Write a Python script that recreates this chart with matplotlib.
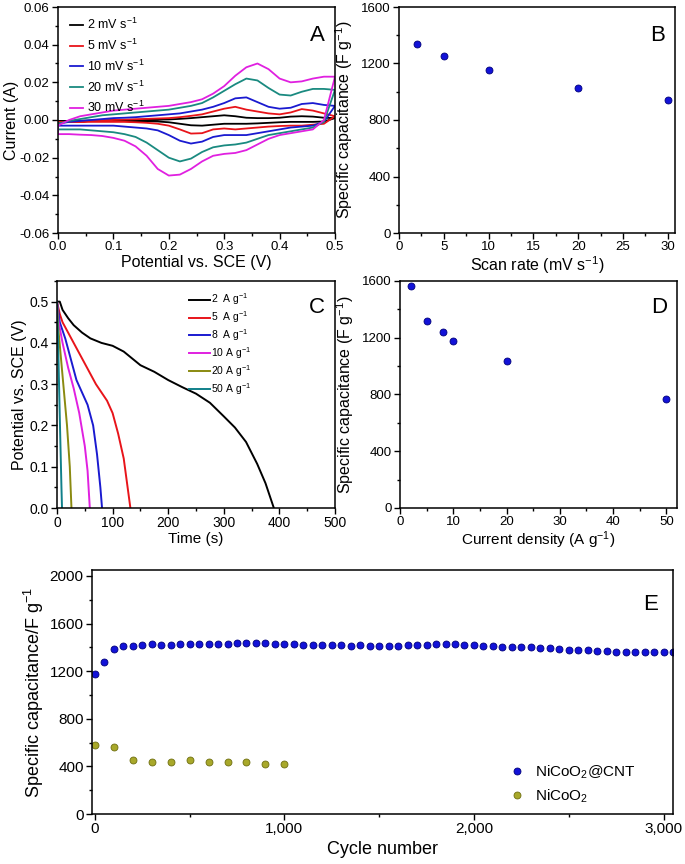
import matplotlib
matplotlib.use("Agg")
import matplotlib.pyplot as plt
from matplotlib.ticker import MultipleLocator

plt.rcParams['font.family'] = ['Liberation Sans', 'DejaVu Sans']
plt.rcParams['mathtext.fontset'] = 'custom'
plt.rcParams['mathtext.rm'] = 'Liberation Sans'
plt.rcParams['mathtext.it'] = 'Liberation Sans'

# ---------------- Panel A data: CV curves ----------------
cv_potential = [0.00, 0.02, 0.04, 0.06, 0.08, 0.10, 0.12, 0.14, 0.16, 0.18, 0.20, 0.22, 0.24,
                0.26, 0.28, 0.30, 0.32, 0.34, 0.36, 0.38, 0.40, 0.42, 0.44, 0.46, 0.48, 0.50]
cv_labels = ['2 mV s$^{-1}$', '5 mV s$^{-1}$', '10 mV s$^{-1}$', '20 mV s$^{-1}$', '30 mV s$^{-1}$']
cv_upper_2 = [-0.0005, -0.0005, -0.0004, -0.0003, -0.0002, -0.0001, 0.0, 0.0001, 0.0002, 0.0002,
              0.0003, 0.0006, 0.0010, 0.0015, 0.0020, 0.0025, 0.0020, 0.0012, 0.0010, 0.0010,
              0.0012, 0.0018, 0.0020, 0.0018, 0.0012, 0.0010]
cv_lower_2 = [-0.0005, -0.0005, -0.0005, -0.0005, -0.0005, -0.0005, -0.0006, -0.0006, -0.0007, -0.0008,
              -0.0012, -0.0020, -0.0028, -0.0030, -0.0025, -0.0020, -0.0020, -0.0020, -0.0018, -0.0015,
              -0.0012, -0.0010, -0.0010, -0.0010, -0.0008, 0.0010]
cv_upper_5 = [-0.0010, -0.0010, -0.0008, -0.0005, -0.0003, 0.0, 0.0002, 0.0004, 0.0006, 0.0008,
              0.0010, 0.0015, 0.0022, 0.0030, 0.0045, 0.0060, 0.0070, 0.0055, 0.0045, 0.0035,
              0.0030, 0.0040, 0.0058, 0.0050, 0.0035, 0.0020]
cv_lower_5 = [-0.0010, -0.0010, -0.0010, -0.0010, -0.0010, -0.0010, -0.0010, -0.0012, -0.0015, -0.0020,
              -0.0030, -0.0050, -0.0072, -0.0070, -0.0050, -0.0045, -0.0050, -0.0045, -0.0040, -0.0035,
              -0.0032, -0.0030, -0.0030, -0.0025, -0.0020, 0.0020]
cv_upper_10 = [-0.0020, -0.0010, -0.0005, 0.0, 0.0005, 0.0010, 0.0012, 0.0015, 0.0020, 0.0025,
               0.0030, 0.0035, 0.0045, 0.0055, 0.0070, 0.0090, 0.0115, 0.0120, 0.0095, 0.0070,
               0.0060, 0.0065, 0.0085, 0.0090, 0.0080, 0.0075]
cv_lower_10 = [-0.0030, -0.0030, -0.0030, -0.0030, -0.0030, -0.0030, -0.0035, -0.0040, -0.0045, -0.0055,
               -0.0080, -0.0110, -0.0125, -0.0115, -0.0090, -0.0080, -0.0080, -0.0080, -0.0070, -0.0060,
               -0.0050, -0.0040, -0.0035, -0.0030, -0.0010, 0.0075]
cv_upper_20 = [-0.0020, -0.0005, 0.0005, 0.0015, 0.0025, 0.0030, 0.0035, 0.0040, 0.0045, 0.0050,
               0.0055, 0.0065, 0.0075, 0.0090, 0.0120, 0.0155, 0.0190, 0.0220, 0.0210, 0.0170,
               0.0135, 0.0130, 0.0150, 0.0165, 0.0165, 0.0160]
cv_lower_20 = [-0.0050, -0.0050, -0.0050, -0.0055, -0.0060, -0.0065, -0.0075, -0.0090, -0.0120, -0.0160,
               -0.0200, -0.0220, -0.0205, -0.0170, -0.0145, -0.0135, -0.0130, -0.0120, -0.0100, -0.0080,
               -0.0070, -0.0060, -0.0050, -0.0040, -0.0010, 0.0160]
cv_upper_30 = [-0.0030, 0.0, 0.0020, 0.0030, 0.0040, 0.0050, 0.0055, 0.0060, 0.0065, 0.0070,
               0.0075, 0.0085, 0.0095, 0.0110, 0.0140, 0.0180, 0.0235, 0.0280, 0.0300, 0.0270,
               0.0220, 0.0200, 0.0205, 0.0220, 0.0230, 0.0230]
cv_lower_30 = [-0.0075, -0.0075, -0.0078, -0.0080, -0.0085, -0.0095, -0.0110, -0.0140, -0.0190, -0.0260,
               -0.0295, -0.0290, -0.0260, -0.0220, -0.0190, -0.0180, -0.0175, -0.0160, -0.0130, -0.0100,
               -0.0080, -0.0070, -0.0060, -0.0050, 0.0000, 0.0230]
cv_colors = ['#000000', '#e8141a', '#1a1ad0', '#1a8a80', '#e020e0']

# ---------------- Panel B data ----------------
scan_rate = [2, 5, 10, 20, 30]
cap_scan = [1340, 1250, 1153, 1030, 942]

# ---------------- Panel C data: discharge curves ----------------
gcd_labels = ['2  A g$^{-1}$', '5  A g$^{-1}$', '8  A g$^{-1}$', '10 A g$^{-1}$', '20 A g$^{-1}$', '50 A g$^{-1}$']
t_2 = [0, 5, 10, 20, 30, 45, 60, 80, 100, 120, 150, 175, 200, 225, 250, 275, 300, 320, 340, 360, 375, 385, 390]
v_2 = [0.50, 0.50, 0.48, 0.46, 0.443, 0.425, 0.411, 0.400, 0.393, 0.379, 0.346, 0.330, 0.310, 0.293,
       0.277, 0.255, 0.222, 0.195, 0.160, 0.107, 0.060, 0.020, 0.0]
t_5 = [0, 5, 10, 20, 30, 50, 70, 90, 100, 110, 120, 130, 132]
v_5 = [0.50, 0.47, 0.45, 0.425, 0.40, 0.35, 0.30, 0.26, 0.23, 0.18, 0.12, 0.02, 0.0]
t_8 = [0, 5, 15, 25, 35, 45, 55, 65, 72, 78, 81]
v_8 = [0.50, 0.45, 0.41, 0.36, 0.31, 0.28, 0.25, 0.20, 0.13, 0.05, 0.0]
t_10 = [0, 3, 10, 20, 30, 40, 50, 55, 59]
v_10 = [0.50, 0.45, 0.40, 0.34, 0.29, 0.23, 0.15, 0.09, 0.0]
t_20 = [0, 2, 10, 18, 23, 26]
v_20 = [0.50, 0.44, 0.32, 0.20, 0.10, 0.0]
t_50 = [0, 2, 5, 8, 9]
v_50 = [0.50, 0.40, 0.22, 0.05, 0.0]
gcd_colors = ['#000000', '#e8141a', '#1a1ad0', '#e020e0', '#8a8a10', '#10808a']

# ---------------- Panel D data ----------------
current_density = [2, 5, 8, 10, 20, 50]
cap_density = [1562, 1320, 1240, 1174, 1036, 770]

# ---------------- Panel E data ----------------
cycles_cnt = [0, 50, 100, 150, 200, 250, 300, 350, 400, 450, 500, 550, 600, 650, 700, 750, 800, 850,
              900, 950, 1000, 1050, 1100, 1150, 1200, 1250, 1300, 1350, 1400, 1450, 1500, 1550, 1600,
              1650, 1700, 1750, 1800, 1850, 1900, 1950, 2000, 2050, 2100, 2150, 2200, 2250, 2300, 2350,
              2400, 2450, 2500, 2550, 2600, 2650, 2700, 2750, 2800, 2850, 2900, 2950, 3000, 3050]
cap_cnt = [1175, 1280, 1385, 1415, 1412, 1422, 1425, 1422, 1422, 1425, 1428, 1430, 1430, 1428, 1430,
           1433, 1435, 1435, 1433, 1432, 1428, 1426, 1424, 1420, 1418, 1418, 1418, 1415, 1416, 1414,
           1413, 1414, 1412, 1418, 1420, 1424, 1426, 1430, 1428, 1420, 1416, 1412, 1408, 1404, 1400,
           1404, 1402, 1396, 1392, 1386, 1382, 1378, 1376, 1372, 1368, 1364, 1362, 1364, 1364, 1362,
           1360, 1358]
cycles_bare = [0, 100, 200, 300, 400, 500, 600, 700, 800, 900, 1000]
cap_bare = [580, 565, 454, 435, 435, 454, 435, 435, 435, 418, 418]

W, H = 685, 864
fig = plt.figure(figsize=(W / 100, H / 100), dpi=100)


def box(l, t, r, b):
    return [l / W, 1 - b / H, (r - l) / W, (b - t) / H]


def style(ax, tick_size=10):
    for s in ax.spines.values():
        s.set_linewidth(1.1)
    ax.tick_params(which='both', direction='out', top=False, right=False,
                   labelsize=tick_size, width=1.0, pad=2)
    ax.tick_params(which='major', length=4)
    ax.tick_params(which='minor', length=2)


ms = 5
blue_face = '#1212d8'
blue_edge = '#00007a'

# Panel A
axA = fig.add_axes(box(58, 7, 335, 233))
cv_up = [cv_upper_2, cv_upper_5, cv_upper_10, cv_upper_20, cv_upper_30]
cv_lo = [cv_lower_2, cv_lower_5, cv_lower_10, cv_lower_20, cv_lower_30]
for up, lo, c, lab in zip(cv_up, cv_lo, cv_colors, cv_labels):
    xs = cv_potential + cv_potential[::-1] + [cv_potential[0]]
    ys = up + lo[::-1] + [up[0]]
    axA.plot(xs, ys, color=c, lw=1.3, label=lab)
axA.set_xlim(0, 0.5)
axA.set_ylim(-0.06, 0.06)
axA.set_xticks([0.0, 0.1, 0.2, 0.3, 0.4, 0.5])
axA.set_xticklabels(['0.0', '0.1', '0.2', '0.3', '0.4', '0.5'])
axA.set_yticks([-0.06, -0.04, -0.02, 0.0, 0.02, 0.04, 0.06])
axA.set_yticklabels(['-0.06', '-0.04', '-0.02', '0.00', '0.02', '0.04', '0.06'])
axA.xaxis.set_minor_locator(MultipleLocator(0.05))
axA.yaxis.set_minor_locator(MultipleLocator(0.01))
axA.set_xlabel('Potential vs. SCE (V)', fontsize=11.5, labelpad=1)
axA.set_ylabel('Current (A)', fontsize=11.5, labelpad=0)
axA.text(0.965, 0.92, 'A', transform=axA.transAxes, fontsize=16, ha='right', va='top')
axA.legend(loc='upper left', frameon=False, fontsize=9, handlelength=1.1, handletextpad=0.3,
           labelspacing=0.45, borderaxespad=0.3, bbox_to_anchor=(0.01, 0.995))
style(axA, 9.5)

# Panel B
axB = fig.add_axes(box(399, 7, 675, 233))
axB.plot(scan_rate, cap_scan, 'o', ms=ms, mfc=blue_face, mec=blue_edge, mew=0.6)
axB.set_xlim(0, 30.8)
axB.set_ylim(0, 1600)
axB.set_xticks([0, 5, 10, 15, 20, 25, 30])
axB.set_yticks([0, 400, 800, 1200, 1600])
axB.xaxis.set_minor_locator(MultipleLocator(2.5))
axB.yaxis.set_minor_locator(MultipleLocator(200))
axB.set_xlabel('Scan rate (mV s$^{-1}$)', fontsize=11.5, labelpad=1)
axB.set_ylabel('Specific capacitance (F g$^{-1}$)', fontsize=11.5, labelpad=4)
axB.text(0.965, 0.92, 'B', transform=axB.transAxes, fontsize=16, ha='right', va='top')
style(axB, 9.5)

# Panel C
axC = fig.add_axes(box(57, 281, 335, 508))
gcd_t = [t_2, t_5, t_8, t_10, t_20, t_50]
gcd_v = [v_2, v_5, v_8, v_10, v_20, v_50]
for t, v, c, lab in zip(gcd_t, gcd_v, gcd_colors, gcd_labels):
    axC.plot(t, v, color=c, lw=1.4, label=lab)
axC.set_xlim(0, 500)
axC.set_ylim(0, 0.55)
axC.set_xticks([0, 100, 200, 300, 400, 500])
axC.set_yticks([0.0, 0.1, 0.2, 0.3, 0.4, 0.5])
axC.set_yticklabels(['0.0', '0.1', '0.2', '0.3', '0.4', '0.5'])
axC.xaxis.set_minor_locator(MultipleLocator(50))
axC.yaxis.set_minor_locator(MultipleLocator(0.05))
axC.set_xlabel('Time (s)', fontsize=11, labelpad=1)
axC.set_ylabel('Potential vs. SCE (V)', fontsize=11.5, labelpad=2)
axC.text(0.965, 0.93, 'C', transform=axC.transAxes, fontsize=16, ha='right', va='top')
axC.legend(loc='upper left', frameon=False, fontsize=7.5, handlelength=2.0, handletextpad=0.15,
           labelspacing=0.2, bbox_to_anchor=(0.44, 0.995))
style(axC, 10)

# Panel D
axD = fig.add_axes(box(400, 281, 677, 508))
axD.plot(current_density, cap_density, 'o', ms=ms, mfc=blue_face, mec=blue_edge, mew=0.6,
         clip_on=False)
axD.set_xlim(0, 52)
axD.set_ylim(0, 1600)
axD.set_xticks([0, 10, 20, 30, 40, 50])
axD.set_yticks([0, 400, 800, 1200, 1600])
axD.xaxis.set_minor_locator(MultipleLocator(5))
axD.yaxis.set_minor_locator(MultipleLocator(200))
axD.set_xlabel('Current density (A g$^{-1}$)', fontsize=11, labelpad=1)
axD.set_ylabel('Specific capacitance (F g$^{-1}$)', fontsize=11.5, labelpad=4)
axD.text(0.965, 0.93, 'D', transform=axD.transAxes, fontsize=16, ha='right', va='top')
style(axD, 9.5)

# Panel E
axE = fig.add_axes(box(92, 570, 673, 814))
axE.plot(cycles_cnt, cap_cnt, 'o', ms=ms, mfc=blue_face, mec=blue_edge, mew=0.6,
         label='NiCoO$_2$@CNT')
axE.plot(cycles_bare, cap_bare, 'o', ms=ms, mfc='#a8a82a', mec='#6e6e10', mew=0.6,
         label='NiCoO$_2$')
axE.set_xlim(-15, 3050)
axE.set_ylim(0, 2050)
axE.set_xticks([0, 1000, 2000, 3000])
axE.set_xticklabels(['0', '1,000', '2,000', '3,000'])
axE.set_yticks([0, 400, 800, 1200, 1600, 2000])
axE.xaxis.set_minor_locator(MultipleLocator(500))
axE.yaxis.set_minor_locator(MultipleLocator(200))
axE.set_xlabel('Cycle number', fontsize=13, labelpad=3)
axE.set_ylabel('Specific capacitance/F g$^{-1}$', fontsize=13, labelpad=3)
axE.text(0.975, 0.9, 'E', transform=axE.transAxes, fontsize=16, ha='right', va='top')
axE.legend(loc='lower right', frameon=False, fontsize=11, handlelength=1.0, handletextpad=0.7,
           labelspacing=0.45, borderaxespad=0.2, bbox_to_anchor=(0.952, 0.0))
style(axE, 11)

fig.savefig('out.png', dpi=100)
